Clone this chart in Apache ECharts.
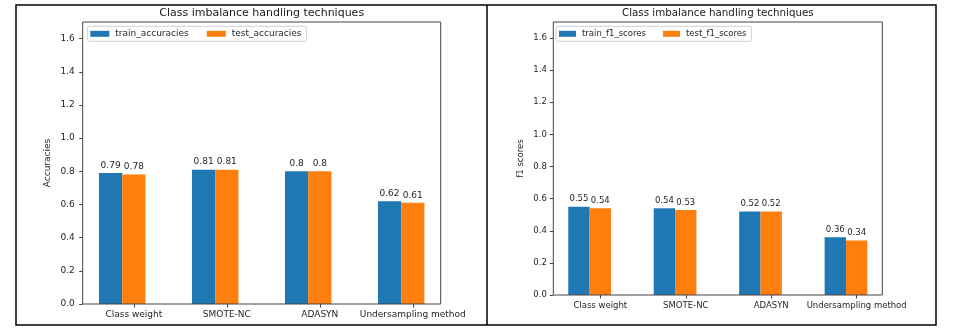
<!DOCTYPE html>
<html>
<head>
<meta charset="utf-8">
<script src="https://cdn.jsdelivr.net/npm/echarts@6/dist/echarts.min.js"></script>
<style>
  html, body { margin: 0; padding: 0; background: #fff; }
  #chart { width: 957px; height: 328px; }
</style>
</head>
<body>
<div id="chart"></div>
<script>
// Techniques compared (x categories)
const categories = ['Class weight', 'SMOTE-NC', 'ADASYN', 'Undersampling method'];

// Accuracy results
const trainAccuracies = [0.79, 0.81, 0.8, 0.62];
const testAccuracies = [0.78, 0.81, 0.8, 0.61];

// F1 score results
const trainF1Scores = [0.55, 0.54, 0.52, 0.36];
const testF1Scores = [0.54, 0.53, 0.52, 0.34];

// Y axis tick values
const yTickValues = [0, 0.2, 0.4, 0.6, 0.8, 1.0, 1.2, 1.4, 1.6];

const BLUE = '#1f77b4';
const ORANGE = '#ff7f0e';
const TEXT = '#262626';
const FONT = 'DejaVu Sans';

// x range in category units: bars are 0.25 wide, placed at i-0.25..i and i..i+0.25
const X_MIN = -0.425, X_MAX = 3.425;
const TICK_SHIFT = 0.125;
const tickPositions = categories.map((_, i) => i + TICK_SHIFT);

function pairs(values) {
  return values.map((v, i) => [i, v]);
}

// Panel geometry (pixels)
const panels = [
  { left: 82.7, right: 440.7, top: 22, bottom: 304, title: 'Class imbalance handling techniques',
    yName: 'Accuracies', nameGap: 31, font: 9, titleFont: 11, yLabelMargin: 8,
    names: ['train_accuracies', 'test_accuracies'], data: [trainAccuracies, testAccuracies],
    legend: { left: 87.3, top: 26.3, itemWidth: 19, itemGap: 18 } },
  { left: 553.3, right: 882.3, top: 22, bottom: 295, title: 'Class imbalance handling techniques',
    yName: 'f1 scores', nameGap: 28, font: 8.5, titleFont: 10.3, yLabelMargin: 6.5,
    names: ['train_f1_scores', 'test_f1_scores'], data: [trainF1Scores, testF1Scores],
    legend: { left: 556, top: 26.3, itemWidth: 17, itemGap: 17 } }
];

const W = 957, H = 328;
const option = {
  animation: false,
  backgroundColor: '#fff',
  textStyle: { fontFamily: FONT, color: TEXT },
  title: [], legend: [], grid: [], xAxis: [], yAxis: [], series: [],
  graphic: [
    { type: 'rect', shape: { x: 16, y: 5, width: 920, height: 320 },
      style: { fill: 'none', stroke: '#000', lineWidth: 1.5 }, silent: true },
    { type: 'line', shape: { x1: 487, y1: 5, x2: 487, y2: 325 },
      style: { stroke: '#000', lineWidth: 1.5 }, silent: true }
  ]
};

panels.forEach((p, k) => {
  option.title.push({
    text: p.title, left: (p.left + p.right) / 2, top: 14.5 - p.titleFont * 0.6,
    textAlign: 'center', padding: 0,
    textStyle: { fontFamily: FONT, fontSize: p.titleFont, fontWeight: 'normal', color: '#1a1a1a' }
  });
  option.legend.push({
    data: p.names, left: p.legend.left, top: p.legend.top,
    orient: 'horizontal', icon: 'rect',
    itemWidth: p.legend.itemWidth, itemHeight: 6, itemGap: p.legend.itemGap,
    padding: [3, 5, 3, 3],
    backgroundColor: '#fff', borderColor: '#d0d0d0', borderWidth: 1, borderRadius: 2,
    textStyle: { fontFamily: FONT, fontSize: p.font, color: TEXT, padding: [0, 0, 0, 1] },
    selectedMode: false
  });
  option.grid.push({
    left: p.left, width: p.right - p.left, top: p.top, height: p.bottom - p.top,
    show: true, borderColor: '#444', borderWidth: 1, backgroundColor: 'transparent', z: 3
  });
  option.xAxis.push({
    type: 'value', gridIndex: k, min: X_MIN, max: X_MAX,
    splitLine: { show: false },
    axisLine: { show: false, onZero: false },
    axisTick: { show: true, length: 3.5, customValues: tickPositions,
      lineStyle: { color: '#444', width: 1 } },
    axisLabel: { show: true, customValues: tickPositions, margin: 6,
      fontFamily: FONT, fontSize: p.font, color: TEXT,
      formatter: v => categories[Math.round(v - TICK_SHIFT)] }
  });
  option.yAxis.push({
    type: 'value', gridIndex: k, min: 0, max: 1.7,
    name: p.yName, nameLocation: 'middle', nameGap: p.nameGap, nameRotate: 90,
    nameTextStyle: { fontFamily: FONT, fontSize: p.font, color: TEXT },
    splitLine: { show: false },
    axisLine: { show: false, onZero: false },
    axisTick: { show: true, length: 3.5, customValues: yTickValues,
      lineStyle: { color: '#444', width: 1 } },
    axisLabel: { show: true, customValues: yTickValues, margin: p.yLabelMargin,
      fontFamily: FONT, fontSize: p.font, color: TEXT,
      formatter: v => v.toFixed(1) }
  });
  [BLUE, ORANGE].forEach((color, s) => {
    option.series.push({
      type: 'bar', name: p.names[s], xAxisIndex: k, yAxisIndex: k,
      data: pairs(p.data[s]),
      barWidth: '25%', barGap: '0%',
      itemStyle: { color: color },
      label: { show: true, position: 'top', distance: 3,
        fontFamily: FONT, fontSize: p.font, color: TEXT,
        formatter: d => String(d.value[1]) }
    });
  });
});

const chart = echarts.init(document.getElementById('chart'), null, { renderer: 'canvas', width: W, height: H });
chart.setOption(option);
</script>
</body>
</html>
